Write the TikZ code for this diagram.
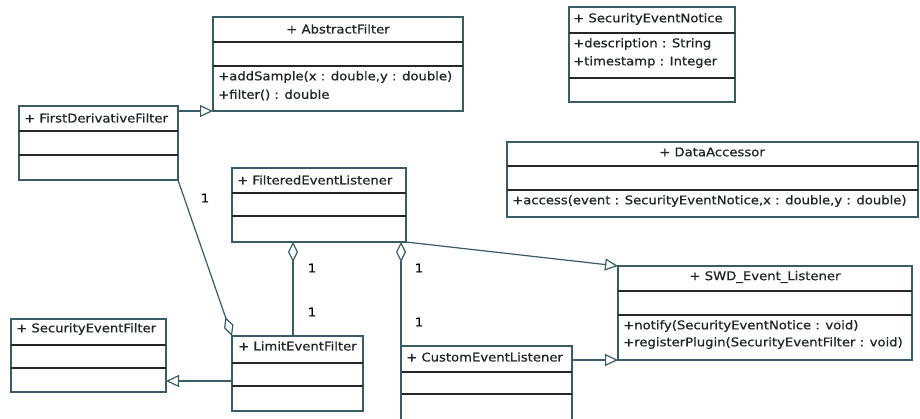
\documentclass[tikz,border=0pt]{standalone}
\usepackage{fontspec}
\setmainfont{DejaVu Sans}[FakeStretch=1.1,FakeBold=0.6]
\usetikzlibrary{arrows.meta,calc}
\definecolor{edge}{RGB}{58,92,104}
\definecolor{txt}{RGB}{30,38,42}
\tikzset{
  cls/.style={draw=edge, line width=1.2pt, rectangle, inner sep=0pt, outer sep=0pt, anchor=north west},
  sepline/.style={draw=black!85, line width=1.4pt},
  ttl/.style={font=\fontsize{12}{14}\selectfont, text=txt, inner sep=0pt, anchor=west},
  ttc/.style={font=\fontsize{12}{14}\selectfont, text=txt, inner sep=0pt},
  mult/.style={font=\fontsize{12}{14}\selectfont, text=black, inner sep=0pt},
  gen/.style={draw=edge, line width=1.2pt, -{Triangle[open, length=13pt, width=12pt]}},
  aggS/.style={draw=edge, line width=1.2pt, {Diamond[open, length=20pt, width=10pt]}-},
  aggE/.style={draw=edge, line width=1.2pt, -{Diamond[open, length=20pt, width=10pt]}},
}
\begin{document}
\begin{tikzpicture}[x=1pt,y=-1pt]
\useasboundingbox[fill=white] (0,0) rectangle (920,418);

% AbstractFilter
\node[cls, minimum width=250pt, minimum height=94pt] (af) at (213,17) {};
\draw[sepline] (213,42) -- (463,42);
\draw[sepline] (213,66) -- (463,66);
\node[ttc] (aft) at (338,29) {+ AbstractFilter};
\node[ttl] (afo1) at (218,77) {+addSample(x : double,y : double)};
\node[ttl] (afo2) at (218,95) {+filter() : double};

% FirstDerivativeFilter
\node[cls, minimum width=159pt, minimum height=74pt] (fdf) at (19,106) {};
\draw[sepline] (19,131) -- (178,131);
\draw[sepline] (19,155) -- (178,155);
\node[ttl] (fdft) at (24,118) {+ FirstDerivativeFilter};

% SecurityEventNotice
\node[cls, minimum width=166pt, minimum height=95pt] (sen) at (569,7) {};
\draw[sepline] (569,33) -- (735,33);
\draw[sepline] (569,78) -- (735,78);
\node[ttl] (sent) at (573,19) {+ SecurityEventNotice};
\node[ttl] (sena1) at (573,44) {+description : String};
\node[ttl] (sena2) at (573,62) {+timestamp : Integer};

% DataAccessor
\node[cls, minimum width=411pt, minimum height=75pt] (da) at (507,142) {};
\draw[sepline] (507,166) -- (918,166);
\draw[sepline] (507,190) -- (918,190);
\node[ttc] (dat) at (712,152) {+ DataAccessor};
\node[ttl] (dao) at (512,201) {+access(event : SecurityEventNotice,x : double,y : double)};

% FilteredEventListener
\node[cls, minimum width=174pt, minimum height=74pt] (fel) at (232,168) {};
\draw[sepline] (232,193) -- (406,193);
\draw[sepline] (232,216) -- (406,216);
\node[ttl] (felt) at (237,180) {+ FilteredEventListener};

% SWD_Event_Listener
\node[cls, minimum width=294pt, minimum height=94pt] (swd) at (618,266) {};
\draw[sepline] (618,291) -- (912,291);
\draw[sepline] (618,315) -- (912,315);
\node[ttc] (swdt) at (765,277) {+ SWD\_Event\_Listener};
\node[ttl] (swdo1) at (623,326) {+notify(SecurityEventNotice : void)};
\node[ttl] (swdo2) at (623,343) {+registerPlugin(SecurityEventFilter : void)};

% SecurityEventFilter
\node[cls, minimum width=155pt, minimum height=73pt] (sef) at (11,319) {};
\draw[sepline] (11,345) -- (166,345);
\draw[sepline] (11,368) -- (166,368);
\node[ttl] (seft) at (16,329) {+ SecurityEventFilter};

% LimitEventFilter
\node[cls, minimum width=131pt, minimum height=75pt] (lef) at (232,336) {};
\draw[sepline] (232,363) -- (363,363);
\draw[sepline] (232,386) -- (363,386);
\node[ttl] (left) at (238,346) {+ LimitEventFilter};

% CustomEventListener
\node[cls, minimum width=171pt, minimum height=80pt] (cel) at (401,346) {};
\draw[sepline] (401,372) -- (572,372);
\draw[sepline] (401,394) -- (572,394);
\node[ttl] (celt) at (406,357) {+ CustomEventListener};

% connectors
\draw[gen] ($(fdf.north east)+(0,5)$) -- (af.south west);
\draw[aggE] (fdf.south east) -- (lef.north west);
\draw[aggS] ($(fel.south west)+(61,0)$) -- ($(lef.north west)+(61,0)$);
\draw[aggS] ($(fel.south east)+(-5,0)$) -- (cel.north west) -- (cel.south west);
\draw[gen] (fel.south east) -- (swd.north west);
\draw[gen] ($(cel.north east)+(0,14)$) -- (swd.south west);
\draw[gen] ($(lef.south west)+(0,-30)$) -- ($(sef.south east)+(0,-11)$);

% multiplicities
\node[mult] (m1) at (205,198) {1};
\node[mult] (m2) at (312,268) {1};
\node[mult] (m3) at (312,312) {1};
\node[mult] (m4) at (419,268) {1};
\node[mult] (m5) at (419,322) {1};
\end{tikzpicture}
\end{document}
